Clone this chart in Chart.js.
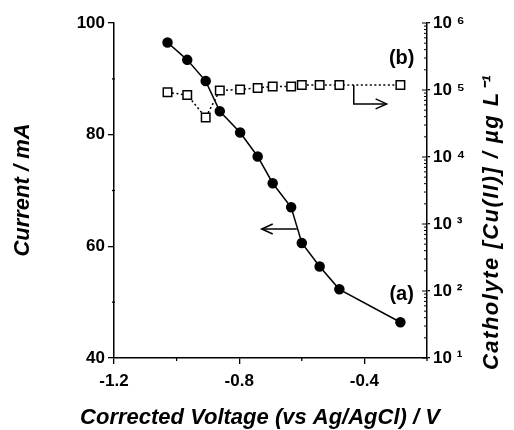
<!DOCTYPE html>
<html>
<head>
<meta charset="utf-8">
<script src="https://cdn.jsdelivr.net/npm/chart.js@4"></script>
<style>
  html, body { margin: 0; padding: 0; background: #fff; }
</style>
</head>
<body>
<canvas id="chart" width="514" height="430"></canvas>
<script>
// Data
const voltage = [-1.029, -0.966, -0.907, -0.862, -0.797, -0.741, -0.693, -0.634, -0.600, -0.543, -0.480, -0.285];
const current = [96.5, 93.4, 89.6, 84.2, 80.4, 76.1, 71.3, 67.0, 60.6, 56.4, 52.3, 46.4];
const catholyteCu = [92500, 84000, 39000, 98000, 102000, 107000, 113000, 113000, 119000, 119000, 119000, 119000];

const xMajor = [-1.2, -0.8, -0.4];
const xMinor = [-1.0, -0.6, -0.2];
const currentMajor = [40, 60, 80, 100];
const currentMinor = [50, 70, 90];
const decades = [1, 2, 3, 4, 5, 6];

const SUP = ['⁰', '¹', '²', '³', '⁴', '⁵', '⁶', '⁷', '⁸', '⁹'];
const tickFont = { family: "'Liberation Sans', Arial, sans-serif", size: 17, weight: 'bold' };
const titleFont = "italic bold 22px 'Liberation Sans', Arial, sans-serif";

// annotation arrows and series tags (in data units)
const arrows = [
  { axis: 'y', pts: [[-0.616, 63.1], [-0.728, 63.1]] },
  { axis: 'y2', pts: [[-0.434, 119000], [-0.434, 62000], [-0.329, 62000]] }
];
const tags = [
  { text: '(a)', axis: 'y', x: -0.281, y: 51.3 },
  { text: '(b)', axis: 'y2', x: -0.281, y: 300000 }
];

function drawArrow(c, pts) {
  c.beginPath();
  c.moveTo(pts[0][0], pts[0][1]);
  for (let i = 1; i < pts.length; i++) c.lineTo(pts[i][0], pts[i][1]);
  c.stroke();
  const [x1, y1] = pts[pts.length - 2];
  const [x2, y2] = pts[pts.length - 1];
  const a = Math.atan2(y2 - y1, x2 - x1);
  c.beginPath();
  c.moveTo(x2 - 11 * Math.cos(a) + 5 * Math.sin(a), y2 - 11 * Math.sin(a) - 5 * Math.cos(a));
  c.lineTo(x2, y2);
  c.lineTo(x2 - 11 * Math.cos(a) - 5 * Math.sin(a), y2 - 11 * Math.sin(a) + 5 * Math.cos(a));
  c.stroke();
}

const extras = {
  id: 'extras',
  afterDatasetsDraw(chart) {
    const c = chart.ctx;
    const sx = chart.scales.x, sy = chart.scales.y, sy2 = chart.scales.y2;
    const area = chart.chartArea;
    c.save();
    c.strokeStyle = '#000';
    c.fillStyle = '#000';
    c.lineWidth = 1.3;

    // minor ticks
    xMinor.forEach(v => {
      const px = sx.getPixelForValue(v);
      c.beginPath(); c.moveTo(px, area.bottom); c.lineTo(px, area.bottom + 3); c.stroke();
    });
    currentMinor.forEach(v => {
      const py = sy.getPixelForValue(v);
      c.beginPath(); c.moveTo(area.left - 2, py); c.lineTo(area.left + 1, py); c.stroke();
    });
    c.lineWidth = 1;
    decades.forEach(d => {
      const py = sy2.getPixelForValue(Math.pow(10, d));
      c.beginPath(); c.moveTo(area.right, py); c.lineTo(area.right - 5, py); c.stroke();
      if (d < 6) {
        for (let m = 2; m <= 9; m++) {
          const pm = sy2.getPixelForValue(m * Math.pow(10, d));
          c.beginPath(); c.moveTo(area.right, pm); c.lineTo(area.right - 3, pm); c.stroke();
        }
      }
    });

    // arrows
    c.lineWidth = 1.5;
    arrows.forEach(ar => {
      const ys = chart.scales[ar.axis];
      drawArrow(c, ar.pts.map(p => [sx.getPixelForValue(p[0]), ys.getPixelForValue(p[1])]));
    });

    // series tags
    c.font = "bold 20px 'Liberation Sans', Arial, sans-serif";
    c.textAlign = 'center';
    c.textBaseline = 'middle';
    tags.forEach(t => {
      c.fillText(t.text, sx.getPixelForValue(t.x), chart.scales[t.axis].getPixelForValue(t.y));
    });

    // axis titles
    c.font = titleFont;
    c.fillText('Corrected Voltage (vs Ag/AgCl) / V', 260, 418);
    c.save();
    c.translate(23, 190);
    c.rotate(-Math.PI / 2);
    c.fillText('Current / mA', 0, 0);
    c.restore();
    c.save();
    c.translate(492, 222);
    c.rotate(-Math.PI / 2);
    c.letterSpacing = '1.5px';
    c.fillText('Catholyte [Cu(II)] / µg L⁻¹', 0, 0);
    c.restore();
    c.restore();
  }
};

const axisBorder = { display: true, color: '#000', width: 1.5 };

new Chart(document.getElementById('chart'), {
  type: 'line',
  data: {
    datasets: [
      {
        label: '(a)',
        data: voltage.map((v, i) => ({ x: v, y: current[i] })),
        yAxisID: 'y',
        borderColor: '#000',
        borderWidth: 1.5,
        pointRadius: 4.5,
        pointBackgroundColor: '#000',
        pointBorderColor: '#000',
        tension: 0
      },
      {
        label: '(b)',
        data: voltage.map((v, i) => ({ x: v, y: catholyteCu[i] })),
        yAxisID: 'y2',
        borderColor: '#000',
        borderWidth: 1.5,
        borderDash: [2, 2.5],
        pointStyle: 'rect',
        pointRadius: 6,
        pointBackgroundColor: '#fff',
        pointBorderColor: '#000',
        pointBorderWidth: 1.5,
        tension: 0
      }
    ]
  },
  options: {
    responsive: false,
    animation: false,
    layout: { padding: { top: 23, left: 0, right: 0, bottom: 0 } },
    plugins: { legend: { display: false }, tooltip: { enabled: false } },
    scales: {
      x: {
        type: 'linear',
        min: -1.2,
        max: -0.2,
        afterBuildTicks: s => { s.ticks = xMajor.map(v => ({ value: v })); },
        afterFit: s => { s.height = 72; },
        ticks: { font: tickFont, color: '#000', padding: 7, maxRotation: 0, autoSkip: false,
                 callback: v => v.toFixed(1) },
        grid: { drawOnChartArea: false, drawTicks: true, tickLength: 6, color: '#000', lineWidth: 1.3 },
        border: axisBorder
      },
      y: {
        position: 'left',
        min: 40,
        max: 100,
        afterBuildTicks: s => { s.ticks = currentMajor.map(v => ({ value: v })); },
        afterFit: s => { s.width = 114; },
        ticks: { font: tickFont, color: '#000', padding: 3, autoSkip: false },
        grid: { drawOnChartArea: false, drawTicks: true, tickLength: 6, color: '#000', lineWidth: 1.3 },
        border: axisBorder
      },
      y2: {
        type: 'logarithmic',
        position: 'right',
        min: 10,
        max: 1e6,
        afterBuildTicks: s => { s.ticks = decades.map(d => ({ value: Math.pow(10, d) })); },
        afterFit: s => { s.width = 87; },
        ticks: { font: tickFont, color: '#000', padding: 3, autoSkip: false,
                 callback: v => '10 ' + SUP[Math.round(Math.log10(v))] },
        grid: { drawOnChartArea: false, drawTicks: true, tickLength: 3, color: '#000', lineWidth: 1.3 },
        border: axisBorder
      }
    }
  },
  plugins: [extras]
});
</script>
</body>
</html>
